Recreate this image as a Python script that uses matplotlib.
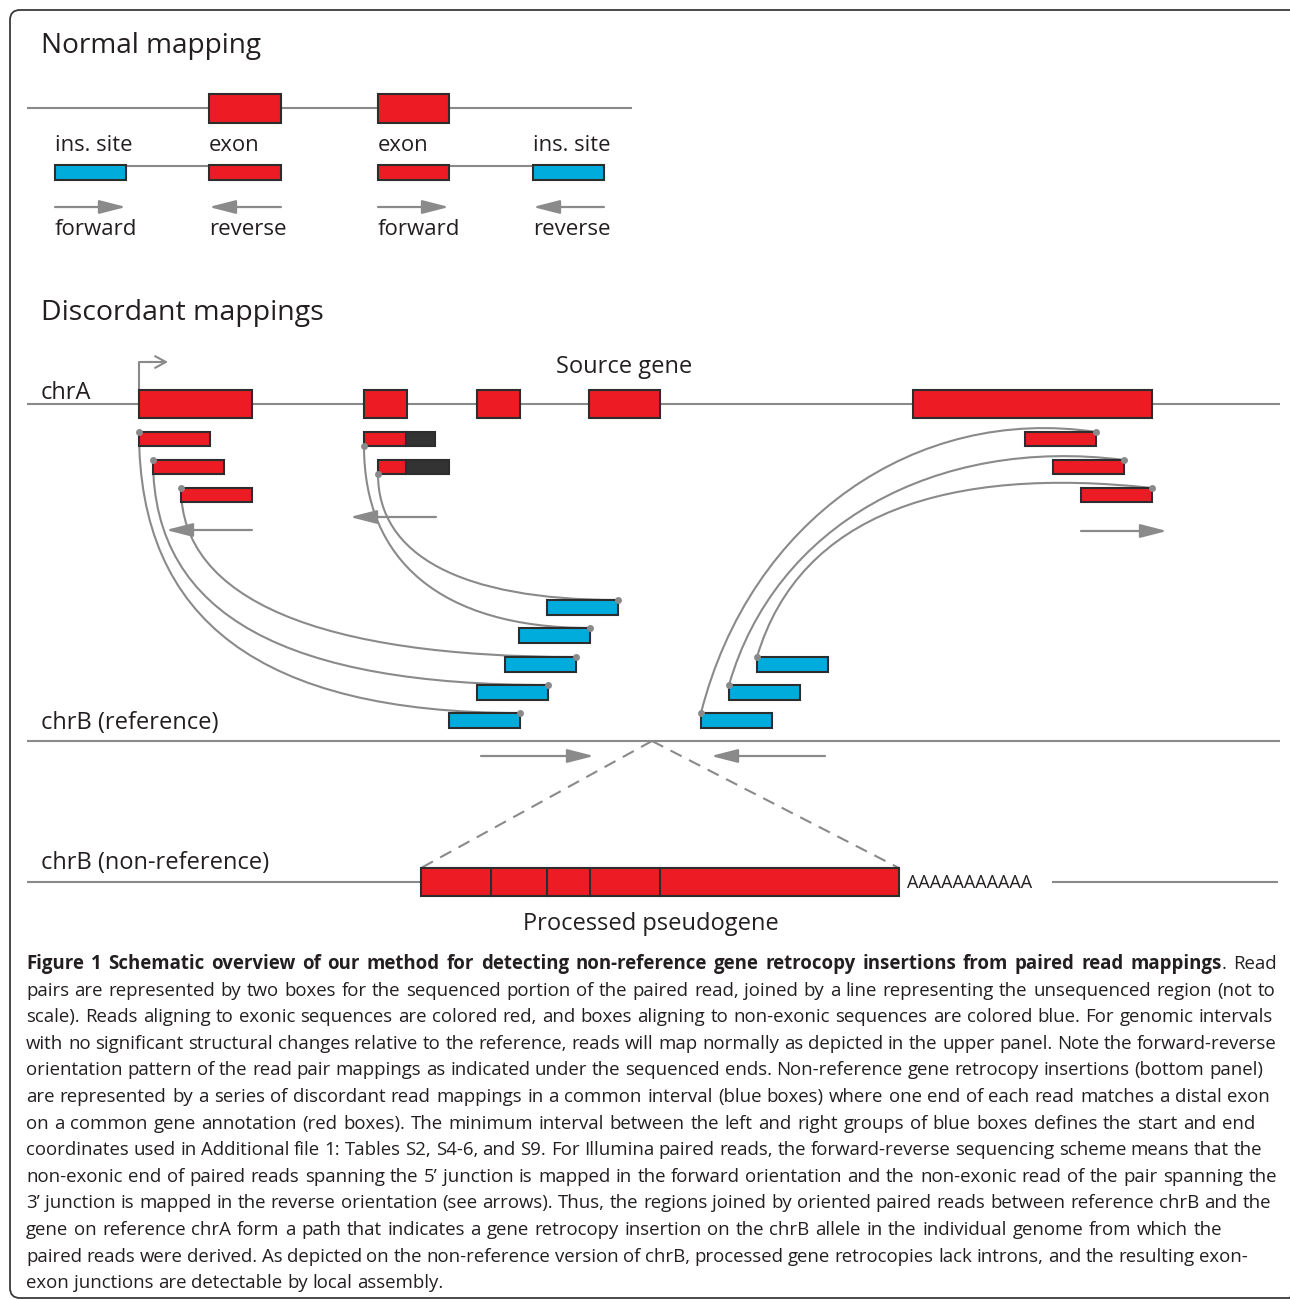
import matplotlib
matplotlib.use("Agg")
import matplotlib.pyplot as plt
from matplotlib.patches import Rectangle, FancyBboxPatch, PathPatch
from matplotlib.path import Path

plt.rcParams['font.family'] = ['Open Sans', 'DejaVu Sans']

RED = "#ED1C24"
BLUE = "#00ACDC"
EDGE = "#2D2D2D"
DARK = "#333333"
GREY = "#8A8A8A"
INK = "#231F20"

# %%
# schematic layout (pixel units of the 1290 x 1300 canvas)

# --- normal mapping panel
NM_Y = 108
NM_SPAN = (27, 632)
NM_EXONS = [(209, 281), (378, 449)]
NM_READ_Y = 165
NM_PAIRS = [[(55, 126, BLUE), (209, 281, RED)],
            [(378, 449, RED), (533, 604, BLUE)]]
NM_ARROW_Y = 207
NM_ARROWS = [(55, 126), (281, 209), (378, 449), (604, 533)]  # tail -> head
NM_TOP_LABELS = [(55, "ins. site"), (209, "exon"), (378, "exon"), (533, "ins. site")]
NM_BOT_LABELS = [(55, "forward"), (209, "reverse"), (378, "forward"), (533, "reverse")]

# --- discordant panel, chrA
CHRA_Y = 404
CHRA_SPAN = (27, 1280)
CHRA_EXONS = [(139, 252), (364, 407), (477, 520), (589, 660), (913, 1152)]

# reads on chrA: (x0, x1, y_top, black_from)
LEFT_READS = [(139, 210, 432), (153, 224, 460), (181, 252, 488)]
MID_READS = [(364, 435, 432, 406), (378, 449, 460, 406)]
RIGHT_READS = [(1025, 1096, 432), (1053, 1124, 460), (1081, 1152, 488)]

# blue reads on reference chrB
LEFT_BLUE = [(547, 618, 600), (519, 590, 628), (505, 576, 657), (477, 548, 685), (449, 520, 713)]
RIGHT_BLUE = [(757, 828, 657), (729, 800, 685), (701, 772, 713)]

# read-pair links as cubic bezier control points
LINKS = [
    [(139, 432), (139, 620), (260, 713), (520, 713)],
    [(153, 460), (153, 618), (290, 685), (548, 685)],
    [(181, 488), (181, 600), (320, 657), (576, 657)],
    [(364, 446), (364, 560), (440, 628), (590, 628)],
    [(378, 474), (378, 555), (460, 600), (618, 600)],
    [(701, 713), (750, 520), (915, 405), (1096, 432)],
    [(729, 685), (775, 525), (935, 436), (1124, 460)],
    [(757, 657), (800, 512), (950, 466), (1152, 488)],
]

DISC_ARROWS = [(252, 166, 530), (436, 350, 517), (1081, 1167, 531),
               (481, 594, 756), (825, 711, 756)]

# --- chrB
CHRB_Y = 741
CHRB_SPAN = (27, 1280)
APEX = (652, 741)
NONREF_Y = 882
NONREF_SPANS = [(27, 421), (1052, 1278)]
PSEUDO = (421, 899, 868, 896)
PSEUDO_SPLITS = [491, 547, 590, 660]

# --- caption
CAP_X = 26
CAP_Y0 = 969
CAP_DY = 26.6
CAPTION = [
    [("Figure 1 Schematic overview of our method for detecting non-reference gene retrocopy insertions from paired read mappings", "bold"), (". Read", "normal")],
    [("pairs are represented by two boxes for the sequenced portion of the paired read, joined by a line representing the unsequenced region (not to", "normal")],
    [("scale). Reads aligning to exonic sequences are colored red, and boxes aligning to non-exonic sequences are colored blue. For genomic intervals", "normal")],
    [("with no significant structural changes relative to the reference, reads will map normally as depicted in the upper panel. Note the forward-reverse", "normal")],
    [("orientation pattern of the read pair mappings as indicated under the sequenced ends. Non-reference gene retrocopy insertions (bottom panel)", "normal")],
    [("are represented by a series of discordant read mappings in a common interval (blue boxes) where one end of each read matches a distal exon", "normal")],
    [("on a common gene annotation (red boxes). The minimum interval between the left and right groups of blue boxes defines the start and end", "normal")],
    [("coordinates used in Additional file 1: Tables S2, S4-6, and S9. For Illumina paired reads, the forward-reverse sequencing scheme means that the", "normal")],
    [("non-exonic end of paired reads spanning the 5\u2019 junction is mapped in the forward orientation and the non-exonic read of the pair spanning the", "normal")],
    [("3\u2019 junction is mapped in the reverse orientation (see arrows). Thus, the regions joined by oriented paired reads between reference chrB and the", "normal")],
    [("gene on reference chrA form a path that indicates a gene retrocopy insertion on the chrB allele in the individual genome from which the", "normal")],
    [("paired reads were derived. As depicted on the non-reference version of chrB, processed gene retrocopies lack introns, and the resulting exon-", "normal")],
    [("exon junctions are detectable by local assembly.", "normal")],
]
CAP_RIGHT = [1277, 1275, 1273, 1277, 1263, 1270, 1255, 1262, 1277, 1271, 1222, 1248, None]

# %%
fig = plt.figure(figsize=(12.9, 13.0), dpi=100)
ax = fig.add_axes([0, 0, 1, 1])
ax.set_xlim(0, 1290)
ax.set_ylim(1300, 0)
ax.axis("off")


def box(x0, x1, y0, h, color, z=4):
    ax.add_patch(Rectangle((x0, y0), x1 - x0, h, facecolor=color,
                           edgecolor=EDGE, lw=1.5, zorder=z))


def arrow(x_tail, x_head, y):
    ax.annotate("", xy=(x_head, y), xytext=(x_tail, y),
                arrowprops=dict(arrowstyle="-|>,head_length=1.25,head_width=0.32",
                                color=GREY, lw=1.6, shrinkA=0, shrinkB=0,
                                mutation_scale=13), zorder=3)


def hline(x0, x1, y, z=1):
    ax.plot([x0, x1], [y, y], color=GREY, lw=1.5, zorder=z, solid_capstyle="butt")


# frame (right side runs off the canvas)
ax.add_patch(FancyBboxPatch((10, 10), 1290, 1288, boxstyle="round,pad=0,rounding_size=10",
                            facecolor="none", edgecolor="#3a3a3a", lw=1.3, zorder=0,
                            clip_on=False))

# normal mapping
ax.text(41, 53, "Normal mapping", fontsize=20.2, color=INK)
hline(*NM_SPAN, NM_Y)
for x0, x1 in NM_EXONS:
    box(x0, x1, NM_Y - 14, 29, RED)
for pair in NM_PAIRS:
    hline(pair[0][1], pair[1][0], NM_READ_Y + 1)
    for x0, x1, c in pair:
        box(x0, x1, NM_READ_Y, 15, c)
for xt, xh in NM_ARROWS:
    arrow(xt, xh, NM_ARROW_Y)
for x, s in NM_TOP_LABELS:
    ax.text(x, 151, s, fontsize=15.8, color=INK)
for x, s in NM_BOT_LABELS:
    ax.text(x, 235, s, fontsize=16, color=INK)

# discordant mappings
ax.text(41, 320, "Discordant mappings", fontsize=20.5, color=INK)
ax.text(41, 399, "chrA", fontsize=17, color=INK)
ax.text(624, 373, "Source gene", fontsize=17, color=INK, ha="center")
hline(*CHRA_SPAN, CHRA_Y)
for x0, x1 in CHRA_EXONS:
    box(x0, x1, CHRA_Y - 14, 28, RED)

# transcription start arrow
ax.plot([139, 139, 150], [390, 362, 362], color=GREY, lw=1.5, zorder=3)
ax.annotate("", xy=(168, 362), xytext=(148, 362),
            arrowprops=dict(arrowstyle="->,head_length=0.55,head_width=0.3",
                            color=GREY, lw=1.5, shrinkA=0, shrinkB=0,
                            mutation_scale=14), zorder=3)

for x0, x1, y in LEFT_READS + RIGHT_READS:
    box(x0, x1, y, 14, RED)
for x0, x1, y, xb in MID_READS:
    box(x0, xb, y, 14, RED)
    box(xb, x1, y, 14, DARK)
for x0, x1, y in LEFT_BLUE + RIGHT_BLUE:
    box(x0, x1, y, 15, BLUE)

for pts in LINKS:
    path = Path(pts, [Path.MOVETO, Path.CURVE4, Path.CURVE4, Path.CURVE4])
    ax.add_patch(PathPatch(path, facecolor="none", edgecolor=GREY, lw=1.5, zorder=3))
    ends = [pts[0], pts[-1]]
    ax.plot([p[0] for p in ends], [p[1] for p in ends], "o", color=GREY, ms=5,
            mec="none", zorder=6)

for xt, xh, y in DISC_ARROWS:
    arrow(xt, xh, y)

# chrB reference
ax.text(41, 729, "chrB (reference)", fontsize=17, color=INK)
hline(*CHRB_SPAN, CHRB_Y)
ax.plot([APEX[0], PSEUDO[0]], [APEX[1], PSEUDO[2]], color=GREY, lw=1.5,
        ls=(0, (6, 4)), zorder=2)
ax.plot([APEX[0], PSEUDO[1]], [APEX[1], PSEUDO[2]], color=GREY, lw=1.5,
        ls=(0, (6, 4)), zorder=2)

# chrB non-reference
ax.text(41, 869, "chrB (non-reference)", fontsize=17, color=INK)
for x0, x1 in NONREF_SPANS:
    hline(x0, x1, NONREF_Y)
box(PSEUDO[0], PSEUDO[1], PSEUDO[2], PSEUDO[3] - PSEUDO[2], RED)
for xs in PSEUDO_SPLITS:
    ax.plot([xs, xs], [PSEUDO[2], PSEUDO[3]], color=EDGE, lw=1.5, zorder=5)
ax.text(907, 888, "AAAAAAAAAAA", fontsize=13, color=INK)
ax.text(651, 930, "Processed pseudogene", fontsize=17, color=INK, ha="center")

# %%
# caption, justified word by word
CAP_FS = 13.4
fig.canvas.draw()
renderer = fig.canvas.get_renderer()
space_w = CAP_FS * 100 / 72 * 0.26

for i, segs in enumerate(CAPTION):
    y = CAP_Y0 + i * CAP_DY
    tokens = []
    for si, (text, wt) in enumerate(segs):
        for k, p in enumerate(text.split(" ")):
            if k == 0 and si > 0:
                if p:
                    tokens[-1].append((p, wt))
                continue
            if p:
                tokens.append([(p, wt)])
    placed = []
    widths = []
    for tok in tokens:
        pieces = []
        w = 0
        for s, wt in tok:
            t = ax.text(0, y, s, fontsize=CAP_FS, fontweight=wt, color=INK)
            pw = t.get_window_extent(renderer=renderer).width
            pieces.append((t, pw))
            w += pw
        placed.append(pieces)
        widths.append(w)
    right = CAP_RIGHT[i]
    if right is None or len(tokens) < 2:
        gap = space_w
    else:
        gap = (right - CAP_X - sum(widths)) / (len(tokens) - 1)
    x = CAP_X
    for pieces in placed:
        for t, pw in pieces:
            t.set_x(x)
            x += pw
        x += gap

fig.savefig("out.png", dpi=100)
